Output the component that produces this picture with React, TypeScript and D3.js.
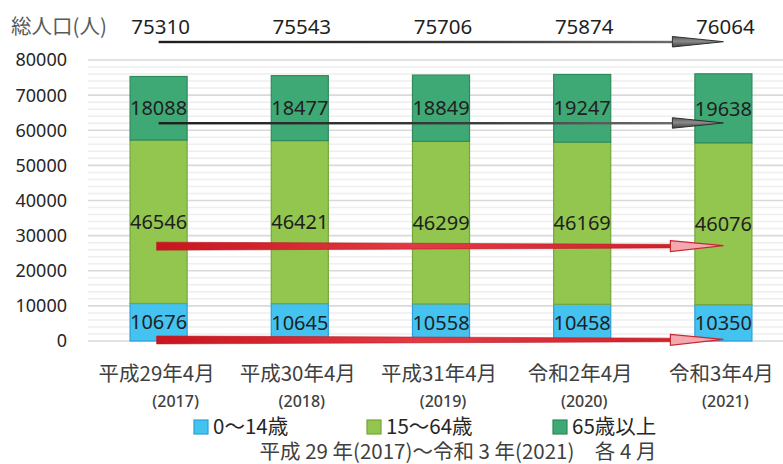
import React from "react";
import * as d3 from "d3";

// Population by age group, April of each year
const categories = ["平成29年4月", "平成30年4月", "平成31年4月", "令和2年4月", "令和3年4月"];
const westernYears = ["(2017)", "(2018)", "(2019)", "(2020)", "(2021)"];
const young = [10676, 10645, 10558, 10458, 10350];
const working = [46546, 46421, 46299, 46169, 46076];
const elderly = [18088, 18477, 18849, 19247, 19638];
const totals = [75310, 75543, 75706, 75874, 76064];
const yTicks = [0, 10000, 20000, 30000, 40000, 50000, 60000, 70000, 80000];
const seriesNames = ["0～14歳", "15～64歳", "65歳以上"];

const W = 783;
const H = 464;
const FONT = "'Noto Sans', 'Noto Sans CJK JP', sans-serif";
const JP = "'Noto Sans CJK JP', 'Noto Sans', sans-serif";

const fills = ["#45c3f0", "#92c64f", "#3fa976"];
const strokes = ["#2a9fd8", "#76a53c", "#2f8a5b"];

export default function App() {
  const x = d3
    .scaleBand<string>()
    .domain(categories)
    .range([88, 794])
    .paddingInner(0.596)
    .paddingOuter(0.298);
  const y = d3.scaleLinear().domain([0, 80000]).range([341, 60]);

  const rows = categories.map((c, i) => ({ c, v: [young[i], working[i], elderly[i]] }));
  const stack = d3.stack<any>().keys(["0", "1", "2"]).value((d: any, k: string) => d.v[+k]);
  const layers = stack(rows);

  const minor = d3.range(0, 80001, 2000).filter((v) => v % 10000 !== 0);
  const cx = (i: number) => (x(categories[i]) as number) + x.bandwidth() / 2;
  const x0 = cx(0);
  const x1 = cx(categories.length - 1);

  // Trend arrow levels (data units) for the 65+, 15-64 and 0-14 groups
  const elderlyArrowLevel = 62000;
  const workingArrowLevel = 27000;
  const youngArrowLevel = 300;

  const darkArrow = (yy: number, key: string) => (
    <g key={key}>
      <rect x={x0} y={yy - 1.2} width={x1 - 51 - x0} height={2.4} fill="url(#darkShaft)" />
      <polygon
        points={`${x1 - 51},${yy - 5.5} ${x1},${yy - 0.3} ${x1 - 51},${yy + 5}`}
        fill="url(#darkHead)"
        stroke="#2e2e2e"
        strokeWidth={1}
      />
    </g>
  );

  const redArrow = (yy: number, key: string) => (
    <g key={key}>
      <polygon
        points={`${x0 - 2},${yy - 4} ${x1 - 52},${yy - 1.8} ${x1 - 52},${yy + 1.8} ${x0 - 2},${yy + 4}`}
        fill="url(#redShaft)"
        stroke="#b81c25"
        strokeWidth={0.6}
      />
      <polygon
        points={`${x1 - 53},${yy - 5.5} ${x1},${yy - 0.5} ${x1 - 53},${yy + 5.5}`}
        fill="#f5a9ae"
        stroke="#c42a33"
        strokeWidth={1.2}
      />
    </g>
  );

  const legendItems = [
    { sx: 194, tx: 213 },
    { sx: 367, tx: 386 },
    { sx: 553, tx: 572 },
  ];

  return (
    <svg
      width={W}
      height={H}
      style={{ position: "absolute", left: 0, top: 0, background: "#fff" }}
      fontFamily={FONT}
    >
      <defs>
        <linearGradient id="darkShaft" x1="0" x2="1" y1="0" y2="0">
          <stop offset="0" stopColor="#1e1e1e" />
          <stop offset="0.6" stopColor="#3a3a3a" />
          <stop offset="1" stopColor="#6a6a6a" />
        </linearGradient>
        <linearGradient id="darkHead" x1="0" x2="0" y1="0" y2="1">
          <stop offset="0" stopColor="#5a5a5a" />
          <stop offset="0.45" stopColor="#8a8a8a" />
          <stop offset="1" stopColor="#3e3e3e" />
        </linearGradient>
        <linearGradient id="redShaft" x1="0" x2="1" y1="0" y2="0">
          <stop offset="0" stopColor="#c8151f" />
          <stop offset="0.5" stopColor="#e23a44" />
          <stop offset="1" stopColor="#d0222c" />
        </linearGradient>
      </defs>

      {/* gridlines */}
      {minor.map((v) => (
        <line key={"m" + v} x1={88} x2={W} y1={y(v)} y2={y(v)} stroke="#eeeeee" strokeWidth={1.5} />
      ))}
      {yTicks.map((v) => (
        <line key={"g" + v} x1={88} x2={W} y1={y(v)} y2={y(v)} stroke="#d9d9d9" strokeWidth={1.6} />
      ))}

      {/* y axis labels */}
      {yTicks.map((v) => (
        <text key={"t" + v} x={67} y={y(v)} dy="0.36em" textAnchor="end" fontSize={18} fill="#262626">
          {v}
        </text>
      ))}

      {/* title and totals */}
      <text x={11} y={34} fontSize={20.5} fill="#595959" fontFamily={JP}>
        総人口(人)
      </text>
      {totals.map((t, i) => (
        <text key={"tot" + i} x={cx(i) + 2} y={34} textAnchor="middle" fontSize={20.5} fill="#1f1f1f">
          {t}
        </text>
      ))}

      {/* stacked bars */}
      {layers.map((layer, li) =>
        layer.map((d, i) => (
          <rect
            key={`b${li}-${i}`}
            x={x(categories[i])}
            y={y(d[1])}
            width={x.bandwidth()}
            height={y(d[0]) - y(d[1])}
            fill={fills[li]}
            stroke={strokes[li]}
            strokeWidth={1.2}
          />
        ))
      )}

      {/* segment value labels */}
      {layers.map((layer, li) =>
        layer.map((d, i) => (
          <text
            key={`l${li}-${i}`}
            x={cx(i)}
            y={y((d[0] + d[1]) / 2)}
            dy="0.36em"
            textAnchor="middle"
            fontSize={20}
            fill="#1f1f1f"
          >
            {rows[i].v[li]}
          </text>
        ))
      )}

      {/* trend arrows */}
      {darkArrow(42, "a-total")}
      {darkArrow(y(elderlyArrowLevel), "a-eld")}
      {redArrow(y(workingArrowLevel), "a-work")}
      {redArrow(y(youngArrowLevel), "a-young")}

      {/* x axis labels */}
      {categories.map((c, i) => (
        <text key={"x" + i} x={cx(i) - 2} y={381} textAnchor="middle" fontSize={20.5} fill="#404040" fontFamily={JP}>
          {c}
        </text>
      ))}
      {westernYears.map((yr, i) => (
        <text
          key={"yr" + i}
          x={cx(i) + (i === 0 ? 17 : 2)}
          y={407}
          textAnchor="middle"
          fontSize={16}
          fill="#404040"
          fontWeight={500}
        >
          {yr}
        </text>
      ))}

      {/* legend */}
      {legendItems.map((it, i) => (
        <g key={"lg" + i}>
          <rect x={it.sx} y={420} width={14} height={14} fill={fills[i]} stroke={strokes[i]} strokeWidth={1.2} />
          <text x={it.tx} y={434} fontSize={20.5} fill="#262626" fontFamily={JP}>
            {seriesNames[i]}
          </text>
        </g>
      ))}

      <text x={458} y={459} textAnchor="middle" fontSize={20.5} fill="#404040" fontFamily={JP}>
        平成 29 年(2017)～令和 3 年(2021)　各 4 月
      </text>
    </svg>
  );
}
